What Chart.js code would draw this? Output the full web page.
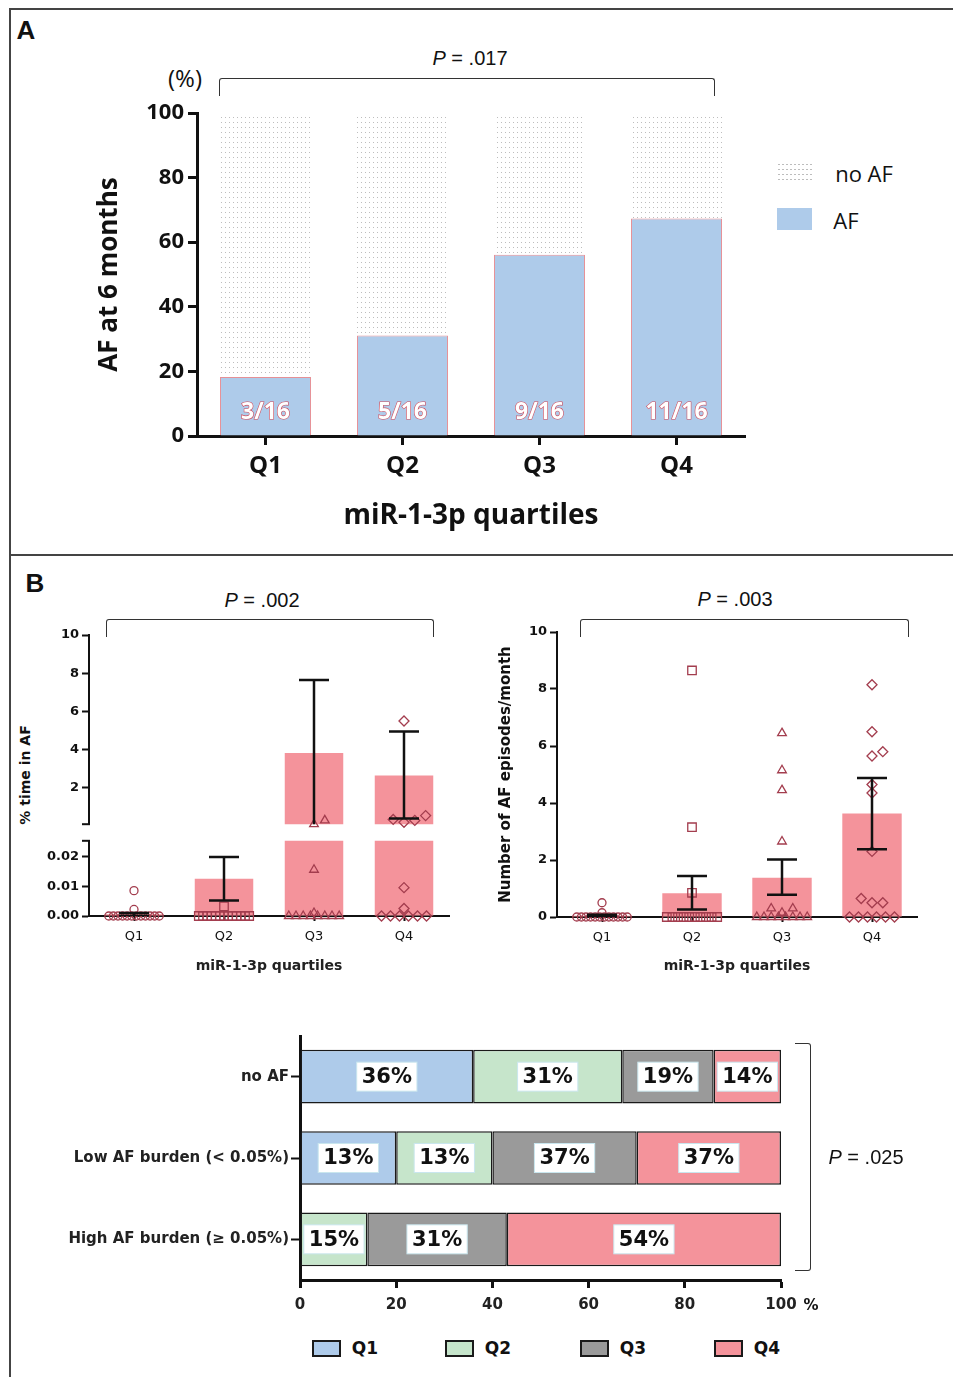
<!doctype html>
<html lang="en">
<head>
<meta charset="utf-8">
<title>miR-1-3p quartiles and atrial fibrillation</title>
<style>
  body { margin: 0; width: 953px; height: 1377px; position: relative; background: #fff; overflow: hidden;
         font-family: "Liberation Sans", Arial, sans-serif; color: #111; }
  canvas { position: absolute; }
  .line { position: absolute; border-color: #444; border-style: solid; border-width: 0; }
  .t { position: absolute; transform: translate(-50%, -50%); white-space: nowrap; }
  .bracket { position: absolute; border: 1.5px solid #333; border-bottom: none; border-radius: 3px 3px 0 0; }
  .sw { position: absolute; box-sizing: border-box; }
</style>
</head>
<body>
  <!-- frame -->
  <div class="line" style="left:9px;top:8px;width:944px;border-top-width:2px"></div>
  <div class="line" style="left:9px;top:8px;height:1369px;border-left-width:2px"></div>
  <div class="line" style="left:9px;top:554px;width:944px;border-top-width:2px"></div>

  <!-- panel A -->
  <div class="t" style="left:26px;top:30px;font:bold 26px 'Liberation Sans'">A</div>
  <div class="t" style="left:470px;top:58px;font-size:20px"><i>P</i> = .017</div>
  <div class="bracket" style="left:219px;top:78px;width:494px;height:17px"></div>
  <div class="t" style="left:185px;top:77px;font:24px 'Open Sans'">(%)</div>
  <div id="legendA"></div>
  <canvas id="chartA" width="700" height="455" style="left:60px;top:95px"></canvas>

  <!-- panel B -->
  <div class="t" style="left:35px;top:583px;font:bold 26px 'Liberation Sans'">B</div>
  <div class="t" style="left:262px;top:600px;font-size:20px"><i>P</i> = .002</div>
  <div class="bracket" style="left:106px;top:619px;width:326px;height:17px"></div>
  <div class="t" style="left:735px;top:599px;font-size:20px"><i>P</i> = .003</div>
  <div class="bracket" style="left:580px;top:619px;width:327px;height:17px"></div>
  <div class="t" style="left:25px;top:775px;transform:translate(-50%,-50%) rotate(-90deg);font:bold 14px 'DejaVu Sans'">% time in AF</div>
  <canvas id="timeUpper" width="470" height="215" style="left:0;top:620px"></canvas>
  <canvas id="timeLower" width="470" height="150" style="left:0;top:830px"></canvas>
  <canvas id="episodes" width="483" height="380" style="left:470px;top:600px"></canvas>

  <canvas id="burden" width="830" height="300" style="left:40px;top:1025px"></canvas>
  <div class="line" style="left:795px;top:1043px;width:15px;height:226px;border-width:1.5px 1.5px 1.5px 0;border-color:#333;border-radius:0 3px 3px 0"></div>
  <div class="t" style="left:866px;top:1157px;font-size:20px"><i>P</i> = .025</div>
  <div class="t" style="left:811px;top:1305px;font:bold 15px 'DejaVu Sans'">%</div>
  <div id="legendB"></div>

<script src="https://cdn.jsdelivr.net/npm/chart.js@4"></script>
<script>
const quartiles = ['Q1', 'Q2', 'Q3', 'Q4'];

// A: AF at 6 months, % of patients per quartile
const afPct = [18.3, 31.1, 56.1, 67.3];
const noAfPct = [81.7, 68.9, 43.9, 32.7];
const afCounts = ['3/16', '5/16', '9/16', '11/16'];

// B left: % time in AF (mean, SEM range, individual patients)
const timeMean = [0.0006, 0.0125, 3.83, 2.65];
const timeLow = [0, 0.0052, 0.03, 0.4];
const timeHigh = [0.001, 0.0198, 7.65, 4.95];
const timeQ1 = [0.0085, 0.0022, 0, 0, 0, 0, 0, 0, 0, 0, 0, 0, 0, 0];
const timeQ2 = [0.0032, 0, 0, 0, 0, 0, 0, 0, 0, 0, 0, 0, 0, 0];
const timeQ3 = [0.3, 0.1, 0.0155, 0.001, 0, 0, 0, 0, 0, 0, 0, 0];
const timeQ4 = [5.5, 0.55, 0.35, 0.3, 0.2, 0.0095, 0.0025, 0, 0, 0, 0, 0, 0];

// B right: number of AF episodes per month
const epiMean = [0.04, 0.83, 1.38, 3.63];
const epiLow = [0, 0.26, 0.78, 2.38];
const epiHigh = [0.08, 1.44, 2.02, 4.88];
const epiQ1 = [0.5, 0.15, 0, 0, 0, 0, 0, 0, 0, 0, 0, 0, 0, 0];
const epiQ2 = [8.65, 3.15, 0.85, 0, 0, 0, 0, 0, 0, 0, 0, 0, 0];
const epiQ3 = [6.45, 5.15, 4.45, 2.65, 0.3, 0.3, 0.15, 0, 0, 0, 0, 0, 0, 0, 0];
const epiQ4 = [8.15, 6.5, 5.8, 5.65, 4.65, 4.35, 2.3, 0.65, 0.5, 0.5, 0, 0, 0, 0, 0, 0];

// B bottom: distribution of quartiles per AF burden group (bar lengths as drawn, printed labels)
const burdenGroups = ['no AF', 'Low AF burden (< 0.05%)', 'High AF burden (\u2265 0.05%)'];
const shareQ1 = [36, 20, 0];
const shareQ2 = [31, 20, 14];
const shareQ3 = [19, 30, 29];
const shareQ4 = [14, 30, 57];
const labelQ1 = ['36%', '13%', ''];
const labelQ2 = ['31%', '13%', '15%'];
const labelQ3 = ['19%', '37%', '31%'];
const labelQ4 = ['14%', '37%', '54%'];

const blue = '#aecbea', green = '#c6e5cb', grey = '#9a9a9a', pink = '#f4939b';
const markerColor = '#a33d4e';
const ink = '#111';

// ---------- plugins ----------
const errorBars = {
  id: 'errorBars',
  afterDatasetsDraw(chart, args, opts) {
    const {ctx, chartArea: a, scales: {x, y}} = chart;
    const inside = p => p >= a.top - 0.5 && p <= a.bottom + 0.5;
    ctx.save();
    ctx.beginPath();
    ctx.rect(a.left, a.top, a.right - a.left, a.bottom - a.top);
    ctx.clip();
    ctx.strokeStyle = ink;
    ctx.lineWidth = 2.5;
    opts.low.forEach((lo, i) => {
      const cx = x.getPixelForValue(i);
      const pl = y.getPixelForValue(lo), ph = y.getPixelForValue(opts.high[i]);
      if (ph > a.bottom || pl < a.top) return; // whole bar outside this axis segment
      ctx.beginPath();
      ctx.moveTo(cx, pl); ctx.lineTo(cx, ph);
      if (inside(pl)) { ctx.moveTo(cx - opts.cap, pl); ctx.lineTo(cx + opts.cap, pl); }
      if (inside(ph)) { ctx.moveTo(cx - opts.cap, ph); ctx.lineTo(cx + opts.cap, ph); }
      ctx.stroke();
    });
    ctx.restore();
  }
};

const axisBreak = {
  id: 'axisBreak',
  afterDraw(chart, args, opts) {
    if (!opts.at) return;
    const {ctx, chartArea: a} = chart;
    const y = opts.at === 'bottom' ? a.bottom : a.top;
    ctx.save();
    ctx.strokeStyle = ink;
    ctx.lineWidth = 2;
    ctx.beginPath();
    ctx.moveTo(a.left - 7, y); ctx.lineTo(a.left + 1, y);
    ctx.stroke();
    ctx.restore();
  }
};

const countLabels = {
  id: 'countLabels',
  afterDatasetsDraw(chart, args, opts) {
    const ctx = chart.ctx;
    const y = chart.scales.y.getPixelForValue(0) - 24;
    ctx.save();
    ctx.font = 'bold 23px "Open Sans"';
    ctx.textAlign = 'center';
    ctx.textBaseline = 'middle';
    ctx.lineWidth = 1.2;
    ctx.strokeStyle = '#d24a58';
    ctx.fillStyle = '#fff';
    chart.getDatasetMeta(0).data.forEach((bar, i) => {
      ctx.strokeText(opts.labels[i], bar.x, y);
      ctx.fillText(opts.labels[i], bar.x, y);
    });
    ctx.restore();
  }
};

const shareLabels = {
  id: 'shareLabels',
  afterDatasetsDraw(chart, args, opts) {
    const ctx = chart.ctx;
    ctx.save();
    ctx.font = 'bold 21px "DejaVu Sans"';
    ctx.textAlign = 'center';
    ctx.textBaseline = 'middle';
    opts.labels.forEach((row, d) => {
      chart.getDatasetMeta(d).data.forEach((bar, j) => {
        const text = row[j];
        if (!text) return;
        const cx = (bar.x + bar.base) / 2;
        const w = ctx.measureText(text).width + 10;
        ctx.fillStyle = '#fff';
        ctx.fillRect(cx - w / 2, bar.y - 14.5, w, 29);
        ctx.strokeStyle = '#c9e6ee';
        ctx.lineWidth = 1;
        ctx.strokeRect(cx - w / 2, bar.y - 14.5, w, 29);
        ctx.fillStyle = ink;
        ctx.fillText(text, cx, bar.y + 1);
      });
    });
    ctx.restore();
  }
};

// spread equal / close values sideways like a dot plot
function spread(values, center, close, step) {
  const zeros = values.filter(v => v === 0);
  const others = values.filter(v => v !== 0).sort((a, b) => a - b);
  const pts = [];
  const n = zeros.length;
  const w = Math.min(0.56, (n - 1) * 0.1);
  zeros.forEach((v, i) => pts.push({x: center + (n > 1 ? -w / 2 + i * w / (n - 1) : 0), y: 0}));
  const placed = [];
  others.forEach(v => {
    let off = 0;
    for (let k = 0; k < 12; k++) {
      off = (k % 2 ? 1 : -1) * Math.ceil(k / 2) * step;
      if (!placed.some(p => Math.abs(p.y - v) < close && Math.abs(p.off - off) < step * 0.9)) break;
    }
    placed.push({y: v, off});
    pts.push({x: center + off, y: v});
  });
  return pts;
}

const markerStyles = [['circle', 4], ['rect', 6], ['triangle', 5], ['rectRot', 5]];
function scatterSets(groups, keep, close) {
  return groups.map((vals, i) => ({
    type: 'scatter',
    xAxisID: 'xs',
    order: 0,
    data: spread(vals.filter(keep), i, close, 0.12),
    pointStyle: markerStyles[i][0],
    pointRadius: markerStyles[i][1],
    pointBorderColor: markerColor,
    pointBackgroundColor: 'rgba(0,0,0,0)',
    pointBorderWidth: 1.3,
    clip: 8
  }));
}

const tickFontB = {family: 'DejaVu Sans', size: 13, weight: 'bold'};
const noPlugins = {legend: {display: false}, tooltip: {enabled: false}};
const hiddenX = {type: 'linear', display: false, offset: false, min: -0.5, max: 3.5};
function meanBars(data, extra) {
  return Object.assign({type: 'bar', xAxisID: 'x', data, backgroundColor: pink, order: 1,
                        grouped: false, barPercentage: 0.65, categoryPercentage: 1}, extra);
}
function yAxisB(extra) {
  return Object.assign({
    grid: {drawOnChartArea: false, tickLength: 7, tickWidth: 2, tickColor: ink},
    border: {color: ink, width: 2},
    ticks: {font: tickFontB, color: ink, padding: 3}
  }, extra);
}
function xAxisB(height) {
  return {
    type: 'category',
    grid: {offset: false, drawOnChartArea: false, tickLength: 5, tickWidth: 2, tickColor: ink},
    border: {color: ink, width: 2},
    ticks: {font: {family: 'DejaVu Sans', size: 13}, color: ink, padding: 8},
    title: {display: true, text: 'miR-1-3p quartiles', color: '#222',
            font: {family: 'DejaVu Sans', size: 14, weight: 'bold'}, padding: {top: 0, bottom: 5}},
    afterFit: s => { s.height = height; }
  };
}

// ---------- panel A ----------
const ctxA = document.getElementById('chartA').getContext('2d');
const tile = document.createElement('canvas');
tile.width = 4; tile.height = 5;
const tc = tile.getContext('2d');
tc.fillStyle = '#bdbdbd';
tc.fillRect(1, 2, 1, 1);
const dots = ctxA.createPattern(tile, 'repeat');

new Chart(ctxA, {
  type: 'bar',
  data: {
    labels: quartiles,
    datasets: [
      {label: 'AF', data: afPct, backgroundColor: blue, borderColor: 'rgba(214,70,80,0.6)',
       borderWidth: {top: 1, left: 1, right: 1, bottom: 0}, borderSkipped: false},
      {label: 'no AF', data: noAfPct, backgroundColor: dots, borderWidth: 0}
    ]
  },
  options: {
    responsive: false, animation: false,
    barPercentage: 0.664, categoryPercentage: 1,
    layout: {padding: {top: 18, right: 15, bottom: 0, left: 0}},
    plugins: Object.assign({countLabels: {labels: afCounts}}, noPlugins),
    scales: {
      x: {
        stacked: true,
        grid: {offset: false, drawOnChartArea: false, tickLength: 9, tickWidth: 3, tickColor: ink},
        border: {color: ink, width: 3},
        ticks: {font: {family: 'Open Sans', size: 24, weight: 'bold'}, color: ink, padding: 7},
        title: {display: true, text: 'miR-1-3p quartiles', color: ink,
                font: {family: 'Open Sans', size: 28, weight: 'bold'}, padding: {top: 0, bottom: 17}},
        afterFit: s => { s.height = 114; }
      },
      y: {
        stacked: true, min: 0, max: 100,
        grid: {drawOnChartArea: false, tickLength: 9, tickWidth: 3, tickColor: ink},
        border: {color: ink, width: 3},
        ticks: {stepSize: 20, font: {family: 'Open Sans', size: 22, weight: 'bold'}, color: ink, padding: 4},
        title: {display: true, text: 'AF at 6 months', color: ink,
                font: {family: 'Open Sans', size: 26, weight: 'bold'}, padding: {top: 34, bottom: 0}},
        afterFit: s => { s.width = 137; }
      }
    }
  },
  plugins: [countLabels]
});

// legend A
document.getElementById('legendA').innerHTML =
  '<div class="sw" style="left:777px;top:162px;width:35px;height:18px;' +
  'background-image:radial-gradient(#bdbdbd 0.7px, transparent 0.9px);background-size:4px 5px"></div>' +
  '<div class="t" style="left:864px;top:173px;font:22px \'Open Sans\'">no AF</div>' +
  '<div class="sw" style="left:777px;top:208px;width:35px;height:22px;background:' + blue + '"></div>' +
  '<div class="t" style="left:846px;top:220px;font:22px \'Open Sans\'">AF</div>';

// ---------- panel B left (broken axis: two stacked charts) ----------
const timeGroups = [timeQ1, timeQ2, timeQ3, timeQ4];
const lowerMax = 0.0252;
const upperMin = 0.1;

new Chart(document.getElementById('timeUpper'), {
  type: 'bar',
  data: {
    labels: quartiles,
    datasets: [
      meanBars(timeMean.map(v => (v > upperMin ? v : null)), {clip: 0}),
      ...scatterSets(timeGroups, v => v > lowerMax, 0.5)
    ]
  },
  options: {
    responsive: false, animation: false,
    layout: {padding: {top: 15, right: 21, bottom: 6, left: 0}},
    plugins: Object.assign({errorBars: {low: timeLow, high: timeHigh, cap: 15}, axisBreak: {at: 'bottom'}}, noPlugins),
    scales: {
      x: {type: 'category', display: false},
      xs: hiddenX,
      y: yAxisB({
        min: upperMin, max: 10,
        afterBuildTicks: s => { s.ticks = [2, 4, 6, 8, 10].map(v => ({value: v})); },
        afterFit: s => { s.width = 89; }
      })
    }
  },
  plugins: [errorBars, axisBreak]
});

new Chart(document.getElementById('timeLower'), {
  type: 'bar',
  data: {
    labels: quartiles,
    datasets: [
      meanBars(timeMean, {clip: 0}),
      ...scatterSets(timeGroups, v => v <= lowerMax, 0.003)
    ]
  },
  options: {
    responsive: false, animation: false,
    layout: {padding: {top: 8, right: 21, bottom: 0, left: 0}},
    plugins: Object.assign({errorBars: {low: timeLow, high: timeHigh, cap: 15}, axisBreak: {at: 'top'}}, noPlugins),
    scales: {
      x: xAxisB(64),
      xs: hiddenX,
      y: yAxisB({
        min: 0, max: lowerMax,
        afterBuildTicks: s => { s.ticks = [0, 0.01, 0.02].map(v => ({value: v})); },
        ticks: {font: tickFontB, color: ink, padding: 3, callback: v => v.toFixed(2)},
        afterFit: s => { s.width = 89; }
      })
    }
  },
  plugins: [errorBars, axisBreak]
});

// ---------- panel B right ----------
new Chart(document.getElementById('episodes'), {
  type: 'bar',
  data: {
    labels: quartiles,
    datasets: [
      meanBars(epiMean, {barPercentage: 0.66}),
      ...scatterSets([epiQ1, epiQ2, epiQ3, epiQ4], v => true, 0.3)
    ]
  },
  options: {
    responsive: false, animation: false,
    layout: {padding: {top: 32, right: 36, bottom: 0, left: 0}},
    plugins: Object.assign({errorBars: {low: epiLow, high: epiHigh, cap: 15}}, noPlugins),
    scales: {
      x: xAxisB(63),
      xs: hiddenX,
      y: yAxisB({
        min: 0, max: 10,
        ticks: {stepSize: 2, font: tickFontB, color: ink, padding: 3},
        title: {display: true, text: 'Number of AF episodes/month', color: ink,
                font: {family: 'DejaVu Sans', size: 15, weight: 'bold'}, padding: {top: 27, bottom: 0}},
        afterFit: s => { s.width = 87; }
      })
    }
  },
  plugins: [errorBars]
});

// ---------- panel B bottom: stacked distribution ----------
const shareColors = [blue, green, grey, pink];
new Chart(document.getElementById('burden'), {
  type: 'bar',
  data: {
    labels: burdenGroups,
    datasets: [shareQ1, shareQ2, shareQ3, shareQ4].map((d, i) => ({
      label: quartiles[i], data: d, backgroundColor: shareColors[i],
      borderColor: '#1a1a1a', borderWidth: 1.5, borderSkipped: false
    }))
  },
  options: {
    indexAxis: 'y',
    responsive: false, animation: false,
    barPercentage: 0.66, categoryPercentage: 1,
    layout: {padding: {top: 9, right: 89, bottom: 0, left: 0}},
    plugins: Object.assign({shareLabels: {labels: [labelQ1, labelQ2, labelQ3, labelQ4]}}, noPlugins),
    scales: {
      x: {
        stacked: true, min: 0, max: 100,
        grid: {drawOnChartArea: false, tickLength: 8, tickWidth: 3, tickColor: ink},
        border: {color: ink, width: 3},
        ticks: {stepSize: 20, font: {family: 'DejaVu Sans', size: 15, weight: 'bold'}, color: '#222', padding: 8},
        afterFit: s => { s.height = 45; }
      },
      y: {
        stacked: true,
        grid: {offset: false, drawOnChartArea: false, tickLength: 9, tickWidth: 2, tickColor: ink},
        border: {color: ink, width: 3},
        ticks: {font: {family: 'DejaVu Sans', size: 15, weight: 'bold'}, color: '#222', padding: 2},
        afterFit: s => { s.width = 260; }
      }
    }
  },
  plugins: [shareLabels]
});

// legend B
const legendX = [312, 445, 580, 714];
document.getElementById('legendB').innerHTML = quartiles.map((q, i) =>
  '<div class="sw" style="left:' + legendX[i] + 'px;top:1340px;width:29px;height:17px;border:2px solid #1a1a1a;background:' +
  shareColors[i] + '"></div>' +
  '<div class="t" style="left:' + (legendX[i] + 53) + 'px;top:1348px;font:bold 17px \'DejaVu Sans\'">' + q + '</div>'
).join('');
</script>
</body>
</html>
